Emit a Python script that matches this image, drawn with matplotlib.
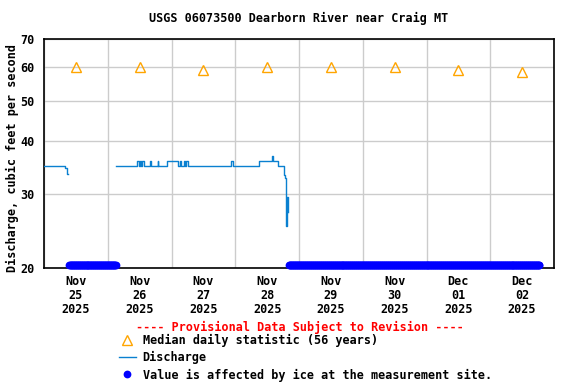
import matplotlib
matplotlib.use('Agg')
import matplotlib.pyplot as plt
import matplotlib.dates as mdates
from matplotlib.ticker import FixedLocator, NullLocator, FuncFormatter
import numpy as np
import pandas as pd

plt.rcParams['font.family'] = ['DejaVu Sans Mono']
plt.rcParams['font.weight'] = 'bold'

# median daily statistic (56 years), plotted at noon
median_days = ['2025-11-25 12:00', '2025-11-26 12:00', '2025-11-27 12:00', '2025-11-28 12:00',
               '2025-11-29 12:00', '2025-11-30 12:00', '2025-12-01 12:00', '2025-12-02 12:00']
median_cfs = [60, 60, 59, 60, 60, 60, 59, 58.4]

# discharge, step change points (nan = gap)
q_times = ['2025-11-25 00:00', '2025-11-25 08:00', '2025-11-25 08:45', '2025-11-25 09:00',
           '2025-11-26 03:00', '2025-11-26 11:00', '2025-11-26 11:45', '2025-11-26 12:00',
           '2025-11-26 12:30', '2025-11-26 12:45', '2025-11-26 13:30', '2025-11-26 16:00',
           '2025-11-26 16:15', '2025-11-26 18:45', '2025-11-26 19:00', '2025-11-26 22:15',
           '2025-11-27 02:30', '2025-11-27 03:15', '2025-11-27 03:45', '2025-11-27 04:45',
           '2025-11-27 05:15', '2025-11-27 05:30', '2025-11-27 06:15', '2025-11-27 22:15',
           '2025-11-27 23:00', '2025-11-28 09:00', '2025-11-28 14:00', '2025-11-28 14:15',
           '2025-11-28 16:15', '2025-11-28 18:15', '2025-11-28 18:30', '2025-11-28 18:45',
           '2025-11-28 19:00', '2025-11-28 19:15', '2025-11-28 19:30', '2025-11-28 19:45',
           '2025-11-28 20:00']
q_cfs = [35, 34.5, 33.4, np.nan,
         35, 36, 35, 36,
         35, 36, 35, 36,
         35, 36, 35, 36,
         35, 36, 35, 36,
         35, 36, 35, 36,
         35, 36, 37, 36,
         35, 33.8, 33.3, 32.7,
         27.0, 25.1, 29.5, 27.2,
         np.nan]

# periods where values are affected by ice
ice_start = ['2025-11-25 09:30', '2025-11-28 20:15']
ice_end = ['2025-11-26 03:00', '2025-12-02 18:30']

day_labels = ['Nov\n25\n2025', 'Nov\n26\n2025', 'Nov\n27\n2025', 'Nov\n28\n2025',
              'Nov\n29\n2025', 'Nov\n30\n2025', 'Dec\n01\n2025', 'Dec\n02\n2025']

fig = plt.figure(figsize=(5.76, 3.84), dpi=100)
ax = fig.add_axes([44/576, 1-268/384, 510/576, 229/384])

fs = 8.5
ax.plot(pd.to_datetime(median_days), median_cfs, linestyle='none', marker='^',
        markersize=7, markerfacecolor='none', markeredgecolor='#ffa500', markeredgewidth=1.0,
        label='Median daily statistic (56 years)', zorder=4)
ax.plot(pd.to_datetime(q_times), q_cfs, color='#0a80d0', lw=1.0, drawstyle='steps-post',
        label='Discharge', zorder=3)
for i, (s, e) in enumerate(zip(ice_start, ice_end)):
    t = pd.date_range(s, e, freq='15min')
    ax.plot(t, [20.3]*len(t), linestyle='none', marker='o', markersize=5.6, color='#0000ff',
            markeredgewidth=0, clip_on=False, zorder=5,
            label='Value is affected by ice at the measurement site.' if i == 0 else '_nolegend_')

ax.set_yscale('log')
ax.set_ylim(20, 70)
ax.yaxis.set_major_locator(FixedLocator([20, 30, 40, 50, 60, 70]))
ax.yaxis.set_minor_locator(NullLocator())
ax.yaxis.set_major_formatter(FuncFormatter(lambda v, p: '%d' % v))
ax.set_xlim(pd.Timestamp('2025-11-25'), pd.Timestamp('2025-12-03'))
ax.xaxis.set_major_locator(mdates.DayLocator())
ax.xaxis.set_major_formatter(plt.NullFormatter())
ax.xaxis.set_minor_locator(FixedLocator(mdates.date2num(pd.to_datetime(median_days))))
ax.set_xticklabels(day_labels, minor=True)
ax.tick_params(axis='x', which='both', length=0, labelsize=fs, pad=5)
ax.tick_params(axis='y', length=0, labelsize=fs, pad=7)
for lab in ax.get_xticklabels(minor=True):
    lab.set_linespacing(1.1)
ax.grid(True, which='major', color='#cccccc', lw=1.0)
ax.set_axisbelow(True)
for sp in ax.spines.values():
    sp.set_linewidth(1.2)

ax.set_title('USGS 06073500 Dearborn River near Craig MT', fontsize=fs, fontweight='bold', pad=12)
fig.text(12/576, 1-158/384, 'Discharge, cubic feet per second', rotation=90,
         ha='center', va='center', fontsize=fs, fontweight='bold')
fig.text(300/576, 1-327/384, '---- Provisional Data Subject to Revision ----',
         color='red', ha='center', va='center', fontsize=fs, fontweight='bold')

fig.legend(loc='upper left', bbox_to_anchor=(119/576, 1-334/384), frameon=False,
           fontsize=fs, handlelength=1.4, handletextpad=0.6, labelspacing=0.35,
           borderpad=0, borderaxespad=0, markerscale=1.0)

fig.savefig('out.png', dpi=100)
